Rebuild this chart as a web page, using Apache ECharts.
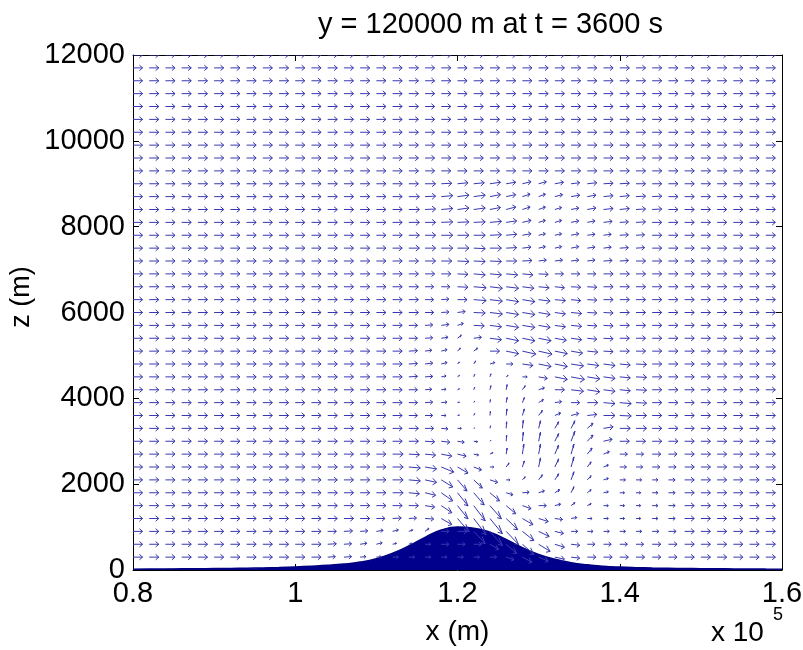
<!DOCTYPE html>
<html><head><meta charset="utf-8">
<script src="https://cdn.jsdelivr.net/npm/echarts@6/dist/echarts.min.js"></script>
<style>html,body{margin:0;padding:0;background:#fff}#c{width:803px;height:650px}</style>
</head><body><div id="c"></div><script>
// grid coordinates of the quiver (m)
const xGrid = [80000,82000,84000,86000,88000,90000,92000,94000,96000,98000,100000,102000,104000,106000,108000,110000,112000,114000,116000,118000,120000,122000,124000,126000,128000,130000,132000,134000,136000,138000,140000,142000,144000,146000,148000,150000,152000,154000,156000,158000,160000];
const zGrid = [0,300,600,900,1200,1500,1800,2100,2400,2700,3000,3300,3600,3900,4200,4500,4800,5100,5400,5700,6000,6300,6600,6900,7200,7500,7800,8100,8400,8700,9000,9300,9600,9900,10200,10500,10800,11100,11400,11700,12000];
// undisturbed wind (m/s)
const baseU = 10;
const baseW = 0;
// disturbed window: columns x=104..146 km, rows z=9000 (top) .. 300 (bottom)
const winX0 = 104000;
const winZTop = 9000;
const winU = [
[10,10, 10,10,10,10,11,11, 11,11,11,10,9,8,9, 9,10,10,10,10,10,10],
[10,10, 10,10,10,11,11,12, 12,12,11,10,8,7,8, 9,9,10,10,10,10,10],
[10,10, 10,10,10,11,11,12, 12,12,11,10,8,7,7, 8,9,10,10,10,10,10],
[10,10, 10,10,10,11,11,12, 12,12,12,11,9,7,7, 8,8,9,9,10,10,10],
[10,10, 10,10,10,11,11,12, 12,12,12,11,9,7,7, 8,8,8,9,9,10,10],
[10,10, 10,10,10,11,11,12, 12,12,12,11,9,7,7, 8,8,8,9,9,10,10],
[10,10, 10,10,10,10,11,11, 12,12,12,11,10,8,8, 8,8,9,9,10,10,10],
[10,10, 10,10,10,10,10,10, 11,12,12,12,11,10,9, 9,9,10,10,10,10,10],
[10,10, 10,10,10,10,9,9, 11,13,13,13,12,11,10, 10,10,10,10,10,10,10],
[10,10, 10,10,10,10,9,8, 10,13,13,13,13,12,11, 10,10,10,10,10,10,10],
[10,10, 10,10,10,10,9,8, 8,12,13,13,13,12,11, 11,10,10,10,10,10,10],
[10,10, 10,10,10,9,8,8, 6,11,12,13,13,12,11, 11,10,10,10,10,10,10],
[10,10, 10,10,10,9,8,7, 4,8,12,13,13,13,12, 11,10,10,10,10,10,10],
[10,10, 10,10,10,9,7,6, 3,4,10,13,14,14,13, 12,11,10,10,10,10,10],
[10,10, 10,10,10,9,8,6, 2,2,5,7,11,13,13, 13,12,12,11,11,10,10],
[10,10, 10,10,10,9,8,5, 2,1,1,2,5,9,13, 14,13,12,11,11,10,10],
[10,10, 10,10,10,9,7,5, 2,1,1,1,3,6,10, 13,13,12,11,11,10,10],
[10,10, 10,10,10,9,8,6, 2,1,0.5,1,2,5,7, 9,11,12,12,11,10,10],
[10,10, 10,10,10,9,8,5, 2,1,0.5,0.8,2,4,6, 8,10,12,12,11,10,10],
[10,10, 10,10,10,10,9,7, 4,1,0.7,0.5,1,2,4, 4,6,10,11,11,10,10],
[10,10, 10,10,10,10,10,9, 7,4,1,0.5,1,2,4, 4,6,9,10,10,10,10],
[10,10, 10,10,11,11,11,11, 9,5,3,1,1.5,2,4, 3,5,6,8,8,9,9],
[10,10, 10,10,11,12,12,13, 11,8,4,3,2,2,4, 3,4,5,7,7,8,8],
[10,10, 10,10,11,12,12,12, 10,9,8,4,3,4,4, 3,4,5,6,6,6,7],
[10,10, 10,10,11,11,11,12, 11,11,10,7,7,6,5, 3,4,5,5,5,6,7],
[10,10, 10,10,10,10,10,11, 11,12,12,10,9,8,6, 4,4,5,5,5,6,7],
[10,10, 10,9,9,8,9,11, 12,13,13,12,11,10,8, 6,5,5,5,5,6,7],
[9,9, 8,7,6,4,4,8, 10,12,13,13,12,11,9, 7,6,6,6,6,7,8],
[9,8, 7,6,4,3,6,8, 8,8,9,11,12,12,10, 9,8,8,8,8,9,9],
[8,8, 6,5,6,6,6,6, 6,6,7,8,10,10,10, 9,9,9,9,9,9,9]
];
const winW = [
[0,0, 0,0,0,0,0,0.1, 0.2,0.2,0.3,0.3,0.4,0.4,0.3, 0.2,0.2,0.1,0.1,0,0,0],
[0,0, 0,0,0,0,0.1,0.2, 0.3,0.3,0.4,0.4,0.5,0.5,0.4, 0.3,0.3,0.2,0.2,0.1,0.1,0],
[0,0, 0,0,0,0,0.1,0.2, 0.3,0.3,0.4,0.5,0.5,0.5,0.4, 0.3,0.3,0.2,0.2,0.1,0.1,0],
[0,0, 0,0,0,0,0,0.1, 0.1,0.1,0.2,0.3,0.4,0.4,0.4, 0.3,0.3,0.2,0.1,0.1,0,0],
[0,0, 0,0,0,0,0,0, 0,0,0.1,0.2,0.3,0.3,0.3, 0.3,0.2,0.2,0.1,0.1,0,0],
[0,0, 0,0,0,0,0,0, 0,-0.1,0,0.1,0.2,0.3,0.3, 0.3,0.2,0.2,0.1,0.1,0,0],
[0,0, 0,0,0,0,0,0, -0.1,-0.1,-0.1,0,0.1,0.2,0.2, 0.2,0.2,0.1,0.1,0,0,0],
[0,0, 0,0,0,0,0,0, -0.1,-0.2,-0.2,-0.2,-0.2,-0.1,0, 0,0,0,0,0,0,0],
[0,0, 0,0,0,0,0,0, -0.1,-0.2,-0.3,-0.3,-0.3,-0.2,-0.2, -0.1,-0.1,0,0,0,0,0],
[0,0, 0,0,0,0,0,0.1, 0,-0.2,-0.3,-0.4,-0.4,-0.3,-0.2, -0.2,-0.1,0,0,0,0,0],
[0,0, 0,0,0,0,0,0.1, 0.2,-0.1,-0.3,-0.4,-0.4,-0.4,-0.3, -0.2,-0.1,-0.1,0,0,0,0],
[0,0, 0,0,0,0,0.1,0.2, 0.4,-0.1,-0.3,-0.4,-0.4,-0.4,-0.3, -0.2,-0.1,-0.1,0,0,0,0],
[0,0, 0,0,0,0,0.1,0.2, 0.6,0.2,-0.3,-0.5,-0.5,-0.5,-0.4, -0.3,-0.2,-0.1,0,0,0,0],
[0,0, 0,0,0,0.1,0.2,0.3, 0.6,0.6,0,-0.5,-0.6,-0.6,-0.5, -0.4,-0.2,-0.1,0,0,0,0],
[0,0, 0,0,0,0.1,0.2,0.3, 0.4,0.6,0.3,0,-0.3,-0.5,-0.5, -0.4,-0.3,-0.3,-0.2,-0.1,0,0],
[0,0, 0,0,0,0.1,0.1,0.2, 0.3,0.5,0.6,0.3,0,-0.3,-0.5, -0.5,-0.4,-0.3,-0.2,-0.1,0,0],
[0,0, 0,0,0,0,0.1,0.1, 0.2,0.5,0.8,1.0,0.8,0.4,0, -0.3,-0.4,-0.3,-0.2,-0.1,0,0],
[0,0, 0,0,0,0,0.1,0.1, 0.1,0.3,0.6,1.0,1.0,0.6,0.2, 0,0,-0.2,-0.2,-0.1,0,0],
[0,0, 0,0,0,0,0,0, 0.1,0.4,0.8,1.3,1.3,1.0,0.5, 0.4,0.2,0,-0.1,0,0,0],
[0,0, 0,0,0,0,0,-0.1, 0,0.1,0.5,1.3,1.6,1.5,1.3, 1.5,1.0,0.3,0,0,0,0],
[0,0, 0,0,0,0,-0.1,-0.2, -0.2,-0.1,0.2,1.2,1.8,1.8,1.5, 2.0,1.2,0.4,0,0,0,0],
[0,0, 0,0,0,-0.1,-0.2,-0.4, -0.4,-0.2,0.3,1.2,2.0,2.0,1.8, 2.0,1.2,0.5,0,0,0,0],
[0,0, 0,0,0,-0.2,-0.4,-1.0, -1.2,-0.6,0,0.8,1.2,1.8,1.6, 2.0,1.0,0.4,0,0,0,0],
[0,0, 0,0,0,-0.2,-0.5,-1.4, -2.2,-1.6,-0.5,0,0.6,1.0,1.2, 1.6,0.8,0.3,0,0,0,0],
[0,0, 0,0,0,-0.2,-0.5,-1.6, -2.6,-2.4,-1.6,-0.4,0.1,0.4,0.6, 1.2,0.6,0.2,0,0,0,0],
[0,0, 0,0,0,0,-0.3,-1.4, -2.6,-3.0,-2.6,-1.6,-0.6,0,0.3, 0.6,0.4,0,0,0,0,0],
[0,0, 0,0,0.1,0.1,-0.1,-1.2, -2.6,-3.2,-3.0,-2.2,-1.2,-0.6,-0.2, 0.2,0,0,0,0,0,0],
[0,0.1, 0.1,0.2,0.3,0.3,0.6,0, 0,-2.4,-2.8,-2.6,-1.8,-1.0,-0.4, 0,0,0,0,0,0,0],
[0.1,0.1, 0.2,0.3,0.2,0.2,0,0, 0,0,-1.0,-1.8,-2.0,-1.4,-0.6, -0.2,0,0,0,0,0,0],
[0.1,0.1, 0.1,0.1,0,0,0,0, 0,0,0,-0.5,-1.0,-0.8,-0.4, -0.2,0,0,0,0,0,0]
];
// terrain height (m) at xGrid
const terrainH = [20,22,24,27,30,33,37,42,48,58,72,88,108,138,185,265,390,560,760,930,1000,975,880,710,520,360,250,170,120,88,68,55,46,40,35,31,28,25,23,21,20];

const titleText = 'y = 120000 m at t = 3600 s';
const FONT = "'Liberation Sans', Arial, Helvetica, sans-serif";
const ARROW_COLOR = '#3838b0';
const SCALE = 118;   // quiver scale: metres of plot per m/s
const HEAD_R = 2.6;  // anisotropy for arrow head shape

const arrows = [];
const gx = 2000, gz = 300;
for (let j = 1; j < zGrid.length; j++) {
  for (let i = 0; i < xGrid.length; i++) {
    const x = xGrid[i], z = zGrid[j];
    let u = baseU, w = baseW;
    const r = Math.round((winZTop - z) / gz);
    const c = Math.round((x - winX0) / gx);
    if (r >= 0 && r < winU.length && c >= 0 && c < winU[0].length) {
      u = winU[r][c]; w = winW[r][c];
    }
    arrows.push([x, z, u, w]);
  }
}
const terrain = xGrid.map((x, k) => [x, terrainH[k]]);

const chart = echarts.init(document.getElementById('c'), null, {renderer: 'canvas'});
const axisCommon = {
  type: 'value',
  axisLine: {show: true, onZero: false, lineStyle: {color: '#000', width: 1}},
  axisTick: {show: true, inside: true, length: 6, lineStyle: {color: '#000', width: 1}},
  splitLine: {show: false}
};
chart.setOption({
  animation: false,
  backgroundColor: '#fff',
  title: {
    text: titleText, left: 313, top: 5,
    textStyle: {fontFamily: FONT, fontSize: 29, fontWeight: 'normal', color: '#000'}
  },
  grid: {left: 133, right: 21, top: 55, bottom: 80, show: false, containLabel: false, outerBoundsMode: 'none'},
  xAxis: [
    Object.assign({}, axisCommon, {
      position: 'bottom', min: 80000, max: 160000, interval: 20000,
      axisLabel: {show: true, fontFamily: FONT, fontSize: 29, color: '#000', margin: 9,
        formatter: v => String(+(v / 1e5).toFixed(1))},
      name: 'x (m)', nameLocation: 'middle', nameGap: 48,
      nameTextStyle: {fontFamily: FONT, fontSize: 28, color: '#000'}
    }),
    Object.assign({}, axisCommon, {
      position: 'top', min: 80000, max: 160000, interval: 20000,
      axisLabel: {show: false}
    })
  ],
  yAxis: [
    Object.assign({}, axisCommon, {
      position: 'left', min: 0, max: 12000, interval: 2000,
      axisLabel: {show: true, fontFamily: FONT, fontSize: 29, color: '#000', margin: 8,
        formatter: v => String(v)}
    }),
    Object.assign({}, axisCommon, {
      position: 'right', min: 0, max: 12000, interval: 2000,
      axisLabel: {show: false}
    })
  ],
  graphic: [
    {type: 'text', x: 22, y: 297, rotation: Math.PI / 2,
      style: {text: 'z (m)', font: '27px ' + FONT, fill: '#000', align: 'center', verticalAlign: 'middle'}},
    {type: 'text', left: 711, top: 619, style: {text: 'x 10', font: '28px ' + FONT, fill: '#000'}},
    {type: 'text', left: 773, top: 606, style: {text: '5', font: '18px ' + FONT, fill: '#000'}}
  ],
  series: [
    {
      type: 'line', data: terrain, xAxisIndex: 0, yAxisIndex: 0,
      symbol: 'none', smooth: 0.5,
      lineStyle: {color: '#000080', width: 1.5},
      areaStyle: {color: '#00008c', opacity: 1},
      z: 1
    },
    {
      type: 'custom', data: arrows, xAxisIndex: 0, yAxisIndex: 0, clip: true, z: 3,
      renderItem: function (params, api) {
        const x = api.value(0), z = api.value(1), u = api.value(2), w = api.value(3);
        const p0 = api.coord([x, z]);
        const p1 = api.coord([x + SCALE * u, z + SCALE * w]);
        const X = p1[0] - p0[0];
        const Y = -(p1[1] - p0[1]) / HEAD_R;
        const a = 0.33, b = 0.33;
        const b1 = [p1[0] - a * (X + b * Y), p1[1] + a * (Y - b * X) * HEAD_R];
        const b2 = [p1[0] - a * (X - b * Y), p1[1] + a * (Y + b * X) * HEAD_R];
        const st = {stroke: ARROW_COLOR, lineWidth: 1, fill: null};
        return {type: 'group', children: [
          {type: 'polyline', shape: {points: [p0, p1]}, style: st},
          {type: 'polyline', shape: {points: [b1, p1, b2]}, style: st}
        ]};
      }
    }
  ]
});
</script></body></html>
